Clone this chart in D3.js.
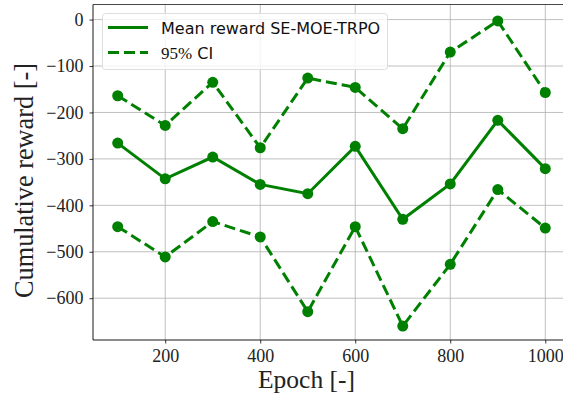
<!DOCTYPE html>
<html><head><meta charset="utf-8">
<script src="https://cdn.jsdelivr.net/npm/d3@7"></script>
<style>body{margin:0;background:#fff}svg{display:block}</style>
</head><body><svg id="c" width="563" height="396"></svg>
<script>
const epochs = [100,200,300,400,500,600,700,800,900,1000];
const meanReward = [-266,-343,-296,-355,-375,-273,-430,-354,-217,-321];
const upperCI = [-164,-228,-135,-276,-126,-146,-235,-70,-3,-157];
const lowerCI = [-446,-511,-435,-468,-629,-446,-660,-527,-366,-449];
const xTicks = [200,400,600,800,1000];
const yTicks = [0,-100,-200,-300,-400,-500,-600];
const seriesLabels = ["Mean reward SE-MOE-TRPO", "95% CI"];

const svg = d3.select("#c");
const L=93, R=565, T=4.5, B=340;
const x = d3.scaleLinear().domain([48,1041.5]).range([L,R]);
const y = d3.scaleLinear().domain([32.5,-690]).range([T,B]);
const green = "#008000";
const serif = '"Liberation Serif"';
const sans = '"DejaVu Sans"';
const tickFs = 18;

// grid
const g = svg.append("g");
g.selectAll("line.gx").data(xTicks).enter().append("line")
 .attr("x1",d=>x(d)).attr("x2",d=>x(d)).attr("y1",T).attr("y2",B)
 .attr("stroke","#b0b0b0").attr("stroke-width",0.8);
g.selectAll("line.gy").data(yTicks).enter().append("line")
 .attr("x1",L).attr("x2",R).attr("y1",d=>y(d)).attr("y2",d=>y(d))
 .attr("stroke","#b0b0b0").attr("stroke-width",0.8);

// axes
const fmt = d => d<0 ? "\u2212"+Math.abs(d) : String(d);
const xa = svg.append("g").attr("transform",`translate(0,${B})`)
 .call(d3.axisBottom(x).tickValues(xTicks).tickSize(3.5).tickPadding(5).tickFormat(fmt));
const ya = svg.append("g").attr("transform",`translate(${L},0)`)
 .call(d3.axisLeft(y).tickValues(yTicks).tickSize(3.5).tickPadding(6).tickFormat(fmt));
[xa,ya].forEach(a=>{
  a.attr("font-family",null).attr("font-size",null);
  a.select(".domain").remove();
  a.selectAll("line").attr("stroke","#000").attr("stroke-width",0.8);
  a.selectAll("text").style("font-family",serif).style("font-size",tickFs+"px").attr("fill","#222");
});
xa.selectAll("text").attr("dy",null).attr("y",21.5);

// spines
svg.append("line").attr("x1",L).attr("x2",L).attr("y1",T).attr("y2",B).attr("stroke","#000").attr("stroke-width",0.9);
svg.append("line").attr("x1",L).attr("x2",R).attr("y1",B).attr("y2",B).attr("stroke","#000").attr("stroke-width",0.9);
svg.append("line").attr("x1",L).attr("x2",R).attr("y1",T).attr("y2",T).attr("stroke","#333").attr("stroke-width",0.9);

// labels, fitted to reference extents
function fit(sel, target){
  const w = sel.node().getComputedTextLength();
  sel.style("font-size", (22*target/w)+"px");
}
const xl = svg.append("text").attr("x",306.5).attr("y",388).attr("text-anchor","middle")
 .style("font-family",serif).style("font-size","22px").attr("fill","#222").text("Epoch [-]");
fit(xl,97);
const yl = svg.append("text").attr("transform",`translate(33,180.5) rotate(-90)`).attr("text-anchor","middle")
 .style("font-family",serif).style("font-size","22px").attr("fill","#222").text("Cumulative reward [-]");
fit(yl,235);

// series
const line = d3.line().x((d,i)=>x(epochs[i])).y(d=>y(d));
function draw(vals, dash){
  svg.append("path").datum(vals).attr("d",line).attr("fill","none")
   .attr("stroke",green).attr("stroke-width",3).attr("stroke-dasharray",dash||null);
  svg.append("g").selectAll("circle").data(vals).enter().append("circle")
   .attr("cx",(d,i)=>x(epochs[i])).attr("cy",d=>y(d)).attr("r",5.5).attr("fill",green);
}
draw(meanReward);
draw(upperCI,"11,5");
draw(lowerCI,"11,5");

// legend
const lg = svg.append("g");
lg.append("rect").attr("x",102.5).attr("y",13.5).attr("width",285).attr("height",56).attr("rx",3)
 .attr("fill","rgba(255,255,255,0.8)").attr("stroke","#ddd").attr("stroke-width",1);
lg.append("line").attr("x1",108).attr("x2",148).attr("y1",27.5).attr("y2",27.5).attr("stroke",green).attr("stroke-width",3);
lg.append("line").attr("x1",108).attr("x2",148).attr("y1",52.5).attr("y2",52.5).attr("stroke",green).attr("stroke-width",3).attr("stroke-dasharray","11,5");
lg.append("text").attr("x",161).attr("y",33.5).style("font-family",sans).style("font-size","16px").attr("fill","#111").text(seriesLabels[0]);
const t2 = lg.append("text").attr("x",161).attr("y",58.5).attr("fill","#111");
t2.append("tspan").style("font-family",serif).style("font-size","17px").text("95%");
t2.append("tspan").style("font-family",sans).style("font-size","16px").text(" CI");
</script></body></html>
